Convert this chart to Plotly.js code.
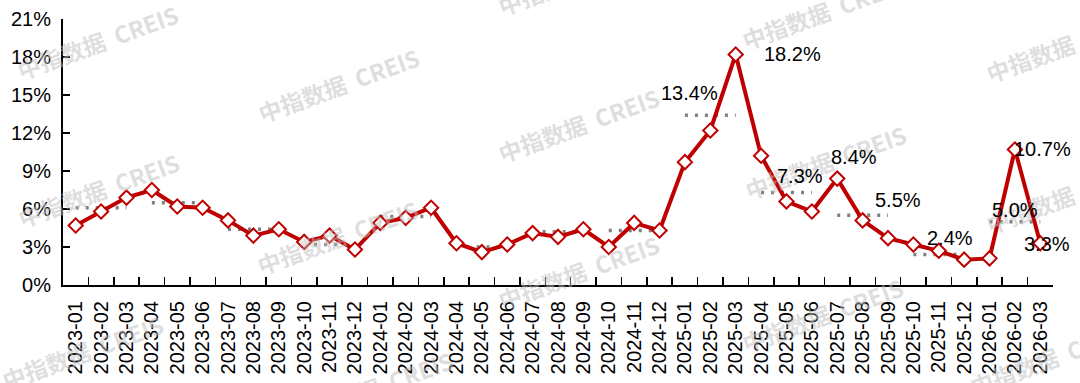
<!DOCTYPE html>
<html>
<head>
<meta charset="utf-8">
<script src="https://cdn.plot.ly/plotly-3.0.1.min.js"></script>
<style>
  html, body { margin: 0; padding: 0; background: #ffffff; }
  #chart { width: 1080px; height: 383px; }
</style>
</head>
<body>
<div id="chart"></div>
<script>
// ---- Data ----
const months = [
  "2023-01","2023-02","2023-03","2023-04","2023-05","2023-06","2023-07","2023-08","2023-09","2023-10","2023-11","2023-12",
  "2024-01","2024-02","2024-03","2024-04","2024-05","2024-06","2024-07","2024-08","2024-09","2024-10","2024-11","2024-12",
  "2025-01","2025-02","2025-03","2025-04","2025-05","2025-06","2025-07","2025-08","2025-09","2025-10","2025-11","2025-12",
  "2026-01","2026-02","2026-03"
];
const monthlyValues = [
  4.7, 5.8, 6.9, 7.5, 6.2, 6.1, 5.1, 3.9, 4.4, 3.4, 3.9, 2.8,
  4.9, 5.3, 6.1, 3.3, 2.6, 3.2, 4.1, 3.8, 4.4, 3.0, 4.9, 4.3,
  9.7, 12.2, 18.2, 10.2, 6.6, 5.8, 8.4, 5.1, 3.7, 3.2, 2.7, 2.0,
  2.1, 10.7, 3.3
];
// quarterly levels (dotted segments), one per quarter, starting 2023 Q1
const quarterValues = [6.1, 6.5, 4.4, 3.2, 5.4, 3.0, 4.2, 4.3, 13.4, 7.3, 5.5, 2.4, 5.0];
const yTickVals = [0, 3, 6, 9, 12, 15, 18, 21];
const yTickText = ["0%", "3%", "6%", "9%", "12%", "15%", "18%", "21%"];

// labelled values
const labelMonths = ["2025-01","2025-03","2025-05","2025-07","2025-09","2025-11","2026-02","2026-02","2026-03"];
const labelValues = [13.4, 18.2, 7.3, 8.4, 5.5, 2.4, 5.0, 10.7, 3.3];
const labelDx = [5, 57, 14, 17, 10, 11, 0, 28, 7];
const labelDy = [22, 0, 17, 22, 15, 17, 12, 0, -1];

// ---- Build quarterly dotted trace ----
const qx = [], qy = [];
quarterValues.forEach((v, q) => {
  for (let k = 0; k < 3; k++) {
    const i = q * 3 + k;
    if (i < months.length) { qx.push(months[i]); qy.push(v); }
  }
  qx.push(null); qy.push(null);
});

const red = "#C00000";

const traces = [
  {
    x: qx, y: qy, type: "scatter", mode: "lines",
    line: { color: "#808080", width: 3.5, dash: "3px,7px" },
    connectgaps: false, hoverinfo: "skip", showlegend: false
  },
  {
    x: months, y: monthlyValues, type: "scatter", mode: "lines+markers",
    line: { color: red, width: 4 },
    marker: { symbol: "diamond", size: 11, color: "#ffffff", line: { color: red, width: 2 } },
    showlegend: false, cliponaxis: false
  }
];

// ---- Layout geometry ----
const L = 63, R = 27, T = 19, B = 98, W = 1080, H = 383;
const pw = W - L - R, ph = H - T - B;
function px(x) { return (x - L) / pw; }
function py(y) { return (H - B - y) / ph; }

const annotations = [];

// watermarks
const wm = [
  [97, 42], [98, 190], [82, 352],
  [338, 85], [337, 237], [372, 388],
  [578, -22], [578, 125], [578, 272],
  [822, 12], [825, 162], [822, 315],
  [1066, 45], [1066, 196], [1050, 358]
];
wm.forEach(p => {
  annotations.push({
    xref: "paper", yref: "paper", x: px(p[0]), y: py(p[1]),
    xanchor: "center", yanchor: "middle",
    text: "<b>中指数据  CREIS</b>", showarrow: false, textangle: -20,
    font: { family: "Noto Sans CJK SC, sans-serif", size: 23, color: "rgba(190,190,190,0.5)" }
  });
});

labelMonths.forEach((m, i) => {
  annotations.push({
    xref: "x", yref: "y", x: m, y: labelValues[i],
    xshift: labelDx[i], yshift: labelDy[i],
    xanchor: "center", yanchor: "middle",
    text: labelValues[i].toFixed(1) + "%", showarrow: false,
    font: { family: "Liberation Sans, Arial, sans-serif", size: 20, color: "#000000" }
  });
});

const layout = {
  width: W, height: H,
  margin: { l: L, r: R, t: T, b: B, pad: 0 },
  paper_bgcolor: "#ffffff", plot_bgcolor: "#ffffff",
  font: { family: "Liberation Sans, Arial, sans-serif", size: 20, color: "#000000" },
  showlegend: false,
  xaxis: {
    type: "category", categoryorder: "array", categoryarray: months,
    range: [-0.5, months.length - 0.5],
    showline: true, linecolor: "#000000", linewidth: 2,
    ticks: "inside", ticklen: 8, tickwidth: 1.5, tickcolor: "#000000",
    tickson: "boundaries",
    tickangle: -90, showgrid: false, zeroline: false,
    tickfont: { size: 20, color: "#000000" },
    ticklabelstandoff: 6
  },
  yaxis: {
    range: [0, 21], tickmode: "array", tickvals: yTickVals, ticktext: yTickText,
    showline: true, linecolor: "#000000", linewidth: 2,
    ticks: "inside", ticklen: 7, tickwidth: 1.5, tickcolor: "#000000",
    showgrid: false, zeroline: false,
    tickfont: { size: 20, color: "#000000" },
    ticklabelstandoff: 6
  },
  annotations: annotations
};

Plotly.newPlot("chart", traces, layout, { displayModeBar: false, staticPlot: true });
</script>
</body>
</html>
